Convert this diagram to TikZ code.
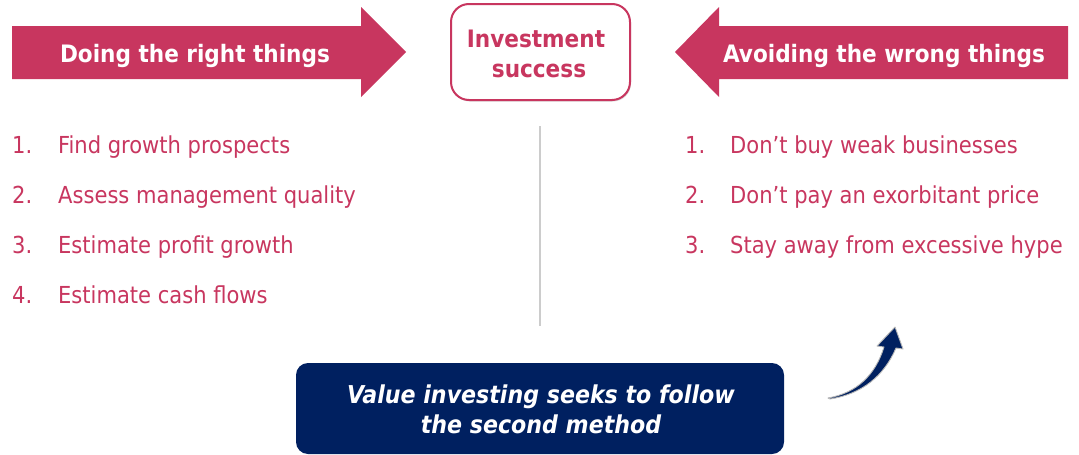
\documentclass[tikz,border=0pt]{standalone}
\usepackage{fontspec}
\setmainfont{DejaVu Sans Condensed}
\usetikzlibrary{shadows}
\definecolor{crimson}{HTML}{C8365F}
\definecolor{navy}{HTML}{002060}
\definecolor{rulegray}{HTML}{CCCCCC}
\begin{document}
\begin{tikzpicture}[x=1pt,y=-1pt,
  banner/.style={fill=crimson,draw=none},
  bannertext/.style={text=white,font=\fontsize{24}{28}\selectfont\bfseries,anchor=base,inner sep=0pt},
  itemnum/.style={text=crimson,font=\fontsize{23.4}{28}\selectfont,anchor=base west,inner sep=0pt},
  itemtext/.style={text=crimson,font=\fontsize{23.4}{28}\selectfont,anchor=base west,inner sep=0pt},
  goaltext/.style={text=crimson,font=\fontsize{24}{30}\selectfont\bfseries,anchor=base,inner sep=0pt},
  notetext/.style={text=white,font=\fontsize{24.6}{30}\selectfont\bfseries\itshape,anchor=base,inner sep=0pt},
  goalbox/.style={draw=crimson,line width=2pt,fill=white,rounded corners=18pt,
    drop shadow={shadow xshift=1pt,shadow yshift=-1.5pt,fill=black,opacity=0.15}},
  notebox/.style={fill=navy,rounded corners=12pt},
]
\useasboundingbox (0,0) rectangle (1079,455);

% banner arrows
\path[banner] (12,26) -- (361,26) -- (361,7) -- (406,52) -- (361,97) -- (361,79) -- (12,79) -- cycle;
\path[banner] (1068,26) -- (719,26) -- (719,7) -- (675,52) -- (719,97) -- (719,79) -- (1068,79) -- cycle;
\node[bannertext] (doing) at (195,62) {Doing the right things};
\node[bannertext] (avoiding) at (884,62) {Avoiding the wrong things};

% central goal
\path[goalbox] (451,4) rectangle (630,100);
\node[goaltext] (goal1) at (536,47) {Investment};
\node[goaltext] (goal2) at (539,77) {success};

% separator
\coordinate (sepTop) at (540,126);
\coordinate (sepBot) at (540,326);
\draw[rulegray,line width=2pt] (sepTop) -- (sepBot);

% left list
\node[itemnum] (l1n) at (12,153) {1.};
\node[itemtext] (l1) at (58,153) {Find growth prospects};
\node[itemnum] (l2n) at (12,203) {2.};
\node[itemtext] (l2) at (58,203) {Assess management quality};
\node[itemnum] (l3n) at (12,253) {3.};
\node[itemtext] (l3) at (58,253) {Estimate profit growth};
\node[itemnum] (l4n) at (12,303) {4.};
\node[itemtext] (l4) at (58,303) {Estimate cash flows};

% right list
\node[itemnum] (r1n) at (685,153) {1.};
\node[itemtext] (r1) at (730,153) {Don’t buy weak businesses};
\node[itemnum] (r2n) at (685,203) {2.};
\node[itemtext] (r2) at (730,203) {Don’t pay an exorbitant price};
\node[itemnum] (r3n) at (685,253) {3.};
\node[itemtext] (r3) at (730,253) {Stay away from excessive hype};

% bottom note
\path[notebox] (296,363) rectangle (784,454);
\node[notetext] (note1) at (541,403) {Value investing seeks to follow};
\node[notetext] (note2) at (541,433) {the second method};

% curved upward arrow
\path[fill=navy,draw=gray!55,line width=0.9pt,line join=round]
  (828,398) .. controls (856,393) and (875,376) .. (884,347)
  -- (877,346) -- (895,327) -- (903,349) -- (896,348)
  .. controls (884,376) and (862,394) .. (830,399) -- cycle;
\end{tikzpicture}
\end{document}
